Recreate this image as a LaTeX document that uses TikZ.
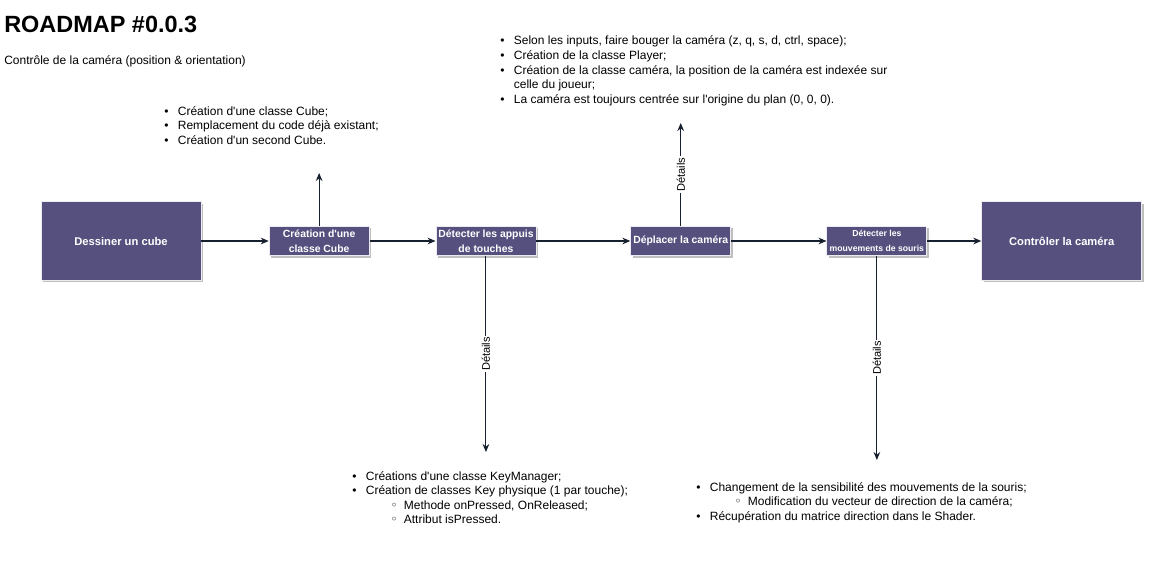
\documentclass[tikz,border=0pt]{standalone}
\usepackage{fontspec}
\setmainfont{Liberation Sans}
\newfontfamily\symfont{DejaVu Sans}
\usetikzlibrary{arrows.meta,positioning,shadows}
\definecolor{boxfill}{RGB}{86,80,127}
\definecolor{boxline}{RGB}{236,236,240}
\definecolor{linkcol}{RGB}{22,32,46}
\newcommand{\bul}{\makebox[10.2pt][l]{•}}
\newcommand{\cont}{\hspace*{10.2pt}}
\newcommand{\subbul}{\hspace*{10.2pt}\makebox[28.5pt][l]{\hspace{18.5pt}{\symfont\small ◦}}}
\newcommand{\q}{\textquotesingle}
\begin{document}
\begin{tikzpicture}[x=0.75pt, y=-0.75pt, >={Stealth[length=6pt,width=5pt]},
  every node/.style={font=\fontsize{9}{10.9}\selectfont},
  box/.style={draw=boxline, line width=0.6pt, fill=boxfill, text=white, align=center, inner sep=1pt,
    drop shadow={shadow xshift=1.5pt, shadow yshift=-1.5pt, fill=black, opacity=0.25}},
  bigbox/.style={box, minimum width=120pt, minimum height=59pt, font=\fontsize{8.4}{10}\selectfont\bfseries},
  smallbox/.style={box, minimum width=75pt, minimum height=22pt, font=\fontsize{7.8}{11.5}\selectfont\bfseries},
  notes/.style={anchor=base west, inner sep=0pt},
  lbl/.style={fill=white, rotate=90, inner sep=1pt, font=\fontsize{8.3}{10}\selectfont},
  link/.style={->, draw=linkcol, line width=0.8pt}]
\useasboundingbox (0,0) rectangle (1154,564);
\node[notes] (titre) at (4,32) {\fontsize{17.6}{20}\selectfont\bfseries ROADMAP \#0.0.3};
\node[notes] (soustitre) at (4,64) {Contrôle de la caméra (position \& orientation)};
\node[bigbox] (dessin) at (121,241) {Dessiner un cube};
\node[smallbox, right=50.5pt of dessin] (cube) {Création d\q une\\classe Cube};
\node[smallbox, right=49.5pt of cube] (appuis) {Détecter les appuis\\de touches};
\node[smallbox, right=70.5pt of appuis] (deplacer) {Déplacer la caméra};
\node[smallbox, right=71.5pt of deplacer, font=\fontsize{6.5}{11.5}\selectfont\bfseries] (souris) {Détecter les\\mouvements de souris};
\node[bigbox, right=40.5pt of souris] (controle) {Contrôler la caméra};
\coordinate (cubeend) at (319,173);
\coordinate (camend) at (681,123);
\coordinate (toucheend) at (486,452);
\coordinate (sourisend) at (878,460);
\draw[link] (dessin) -- (cube);
\draw[link] (cube) -- (appuis);
\draw[link] (appuis) -- (deplacer);
\draw[link] (deplacer) -- (souris);
\draw[link] (souris) -- (controle);
\draw[link] (cube) -- (cube |- cubeend);
\draw[link] (deplacer) -- node[lbl] {Détails} (deplacer |- camend);
\draw[link] (appuis) -- node[lbl] {Détails} (appuis |- toucheend);
\draw[link] (souris) -- node[lbl] {Détails} (souris |- sourisend);
\node[notes] (cubenotes) at (164,115) {\begin{tabular}[t]{@{}l@{}}
\bul Création d\q une classe Cube;\\
\bul Remplacement du code déjà existant;\\
\bul Création d\q un second Cube.
\end{tabular}};
\node[notes] (camnotes) at (500,45) {\begin{tabular}[t]{@{}l@{}}
\bul Selon les inputs, faire bouger la caméra (z, q, s, d, ctrl, space);\\
\bul Création de la classe Player;\\
\bul Création de la classe caméra, la position de la caméra est indexée sur\\
\cont celle du joueur;\\
\bul La caméra est toujours centrée sur l\q origine du plan (0, 0, 0).
\end{tabular}};
\node[notes] (touchenotes) at (352,480) {\begin{tabular}[t]{@{}l@{}}
\bul Créations d\q une classe KeyManager;\\
\bul Création de classes Key physique (1 par touche);\\
\subbul Methode onPressed, OnReleased;\\
\subbul Attribut isPressed.
\end{tabular}};
\node[notes] (sourisnotes) at (696,491) {\begin{tabular}[t]{@{}l@{}}
\bul Changement de la sensibilité des mouvements de la souris;\\
\subbul Modification du vecteur de direction de la caméra;\\
\bul Récupération du matrice direction dans le Shader.
\end{tabular}};
\end{tikzpicture}
\end{document}
